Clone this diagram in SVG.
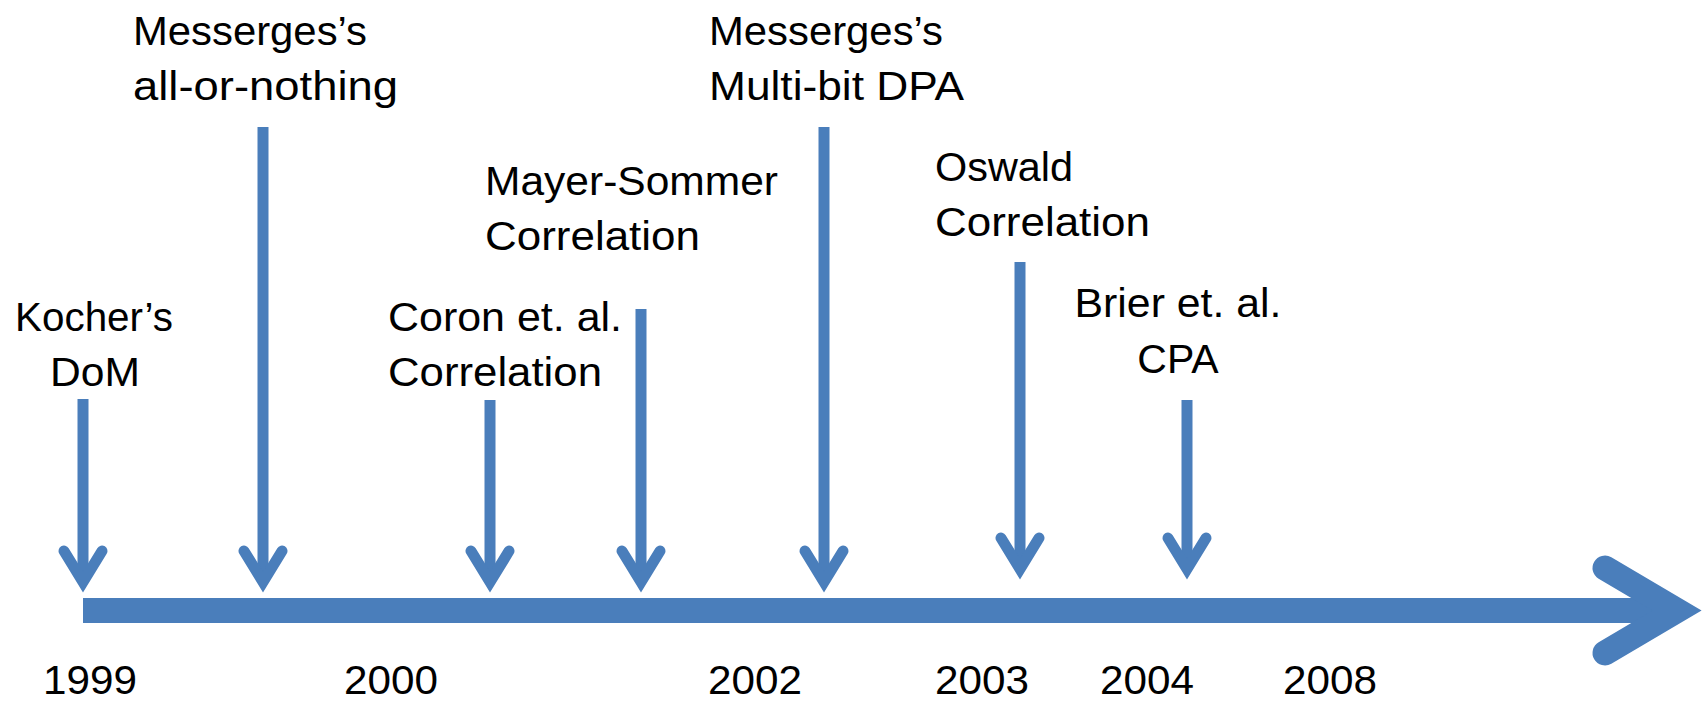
<svg xmlns="http://www.w3.org/2000/svg" width="1707" height="701" viewBox="0 0 1707 701">
<style>
text{font-family:"Liberation Sans",Arial,sans-serif;font-size:41px;fill:#000}
.m{text-anchor:middle}
.ar{fill:none;stroke:#4A7EBB;stroke-width:11;stroke-linecap:round;stroke-linejoin:miter}
.sh{fill:none;stroke:#4A7EBB;stroke-width:11;stroke-linecap:butt}
</style>
<rect width="1707" height="701" fill="#fff"/>
<g id="timeline">
<path d="M83 610.5 H1680" fill="none" stroke="#4A7EBB" stroke-width="25"/>
<path d="M1605 568 L1677 610.5 L1605 653" fill="none" stroke="#4A7EBB" stroke-width="25" stroke-linecap="round" stroke-linejoin="miter"/>
</g>
<g id="connectors">
<path class="sh" d="M83 399 V582"/><path class="ar" d="M64 551 L83 582 L102 551"/>
<path class="sh" d="M263 127 V582"/><path class="ar" d="M244 551 L263 582 L282 551"/>
<path class="sh" d="M490 400 V582"/><path class="ar" d="M471 551 L490 582 L509 551"/>
<path class="sh" d="M641 309 V582"/><path class="ar" d="M622 551 L641 582 L660 551"/>
<path class="sh" d="M824 127 V582"/><path class="ar" d="M805 551 L824 582 L843 551"/>
<path class="sh" d="M1020 262 V569"/><path class="ar" d="M1001 538 L1020 569 L1039 538"/>
<path class="sh" d="M1187 400 V569"/><path class="ar" d="M1168 538 L1187 569 L1206 538"/>
</g>
<g id="kocher">
<text class="m" x="94" y="331" textLength="158" lengthAdjust="spacingAndGlyphs">Kocher’s</text>
<text class="m" x="95" y="386" textLength="90" lengthAdjust="spacingAndGlyphs">DoM</text>
</g>
<g id="messerges-aon">
<text x="133" y="45" textLength="234" lengthAdjust="spacingAndGlyphs">Messerges’s</text>
<text x="133" y="100" textLength="265" lengthAdjust="spacingAndGlyphs">all-or-nothing</text>
</g>
<g id="coron">
<text x="388" y="331" textLength="234" lengthAdjust="spacingAndGlyphs">Coron et. al.</text>
<text x="388" y="386" textLength="214" lengthAdjust="spacingAndGlyphs">Correlation</text>
</g>
<g id="mayer">
<text x="485" y="195" textLength="293" lengthAdjust="spacingAndGlyphs">Mayer-Sommer</text>
<text x="485" y="250" textLength="215" lengthAdjust="spacingAndGlyphs">Correlation</text>
</g>
<g id="messerges-multibit">
<text x="709" y="45" textLength="234" lengthAdjust="spacingAndGlyphs">Messerges’s</text>
<text x="709" y="100" textLength="255" lengthAdjust="spacingAndGlyphs">Multi-bit DPA</text>
</g>
<g id="oswald">
<text x="935" y="181" textLength="138" lengthAdjust="spacingAndGlyphs">Oswald</text>
<text x="935" y="236" textLength="215" lengthAdjust="spacingAndGlyphs">Correlation</text>
</g>
<g id="brier">
<text class="m" x="1178" y="317" textLength="207" lengthAdjust="spacingAndGlyphs">Brier et. al.</text>
<text class="m" x="1178" y="373">CPA</text>
</g>
<g id="years">
<text class="m" x="90" y="694" textLength="94" lengthAdjust="spacingAndGlyphs">1999</text>
<text class="m" x="391" y="694" textLength="94" lengthAdjust="spacingAndGlyphs">2000</text>
<text class="m" x="755" y="694" textLength="94" lengthAdjust="spacingAndGlyphs">2002</text>
<text class="m" x="982" y="694" textLength="94" lengthAdjust="spacingAndGlyphs">2003</text>
<text class="m" x="1147" y="694" textLength="94" lengthAdjust="spacingAndGlyphs">2004</text>
<text class="m" x="1330" y="694" textLength="94" lengthAdjust="spacingAndGlyphs">2008</text>
</g>
</svg>
